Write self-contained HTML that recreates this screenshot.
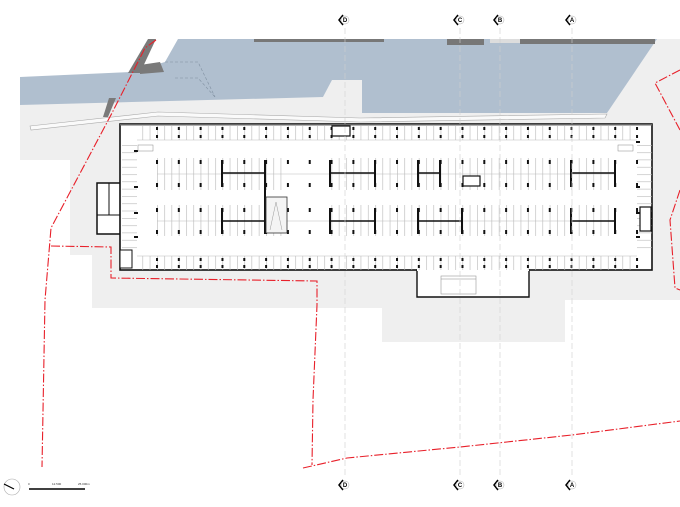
<!DOCTYPE html>
<html><head><meta charset="utf-8"><style>
html,body{margin:0;padding:0;background:#fff;}
svg{display:block;font-family:"Liberation Sans",sans-serif;}
</style></head><body>
<svg width="680" height="507" viewBox="0 0 680 507" xmlns="http://www.w3.org/2000/svg">
<defs>
<pattern id="stall" x="157" y="0" width="7.273" height="507" patternUnits="userSpaceOnUse">
<rect x="0" y="0" width="0.6" height="507" fill="#b8b8b8"/>
</pattern>
<pattern id="stallh" x="0" y="145" width="680" height="7.3" patternUnits="userSpaceOnUse">
<rect x="0" y="0" width="680" height="0.6" fill="#b8b8b8"/>
</pattern>
<pattern id="col" x="156" y="0" width="21.82" height="507" patternUnits="userSpaceOnUse">
<rect x="0" y="0" width="2" height="507" fill="#111"/>
</pattern>
</defs>

<!-- light site area -->
<polygon points="20,105 130,97 323,97 332,80 362,80 362,113 607,113 657,39 680,39 680,300 565,300 565,342 382,342 382,308 92,308 92,255 70,255 70,160 20,160" fill="#efefef"/>

<!-- water -->
<polygon points="20,77 130,72 165,62 178,39 657,39 607,113 362,113 362,80 332,80 323,97 20,105" fill="#b0bfcf"/>
<polyline points="165,62 198,62 215,97" fill="none" stroke="#7f8fa0" stroke-width="0.6" stroke-dasharray="3,2"/>
<polyline points="175,78 198,78 215,97" fill="none" stroke="#7f8fa0" stroke-width="0.6" stroke-dasharray="3,2"/>
<!-- quay bars -->
<rect x="254" y="39" width="130" height="3" fill="#777"/>
<rect x="447" y="39" width="37" height="6" fill="#777"/>
<rect x="520" y="39" width="135" height="5" fill="#777"/>
<rect x="490" y="39" width="30" height="4" fill="#ddd"/>
<polygon points="148,39 156,39 140,73 128,73" fill="#7a7a7a"/>
<polygon points="140,65 160,62 164,72 140,74" fill="#7a7a7a"/>
<polygon points="109,98 116,98 108,117 103,117" fill="#7a7a7a"/>
<!-- walkway strip -->
<polygon points="30,126 158,112 360,118 607,114 605,118 360,122 158,116 31,130" fill="#fafafa" stroke="#aaa" stroke-width="0.6"/>

<!-- building -->
<rect x="97" y="183" width="25" height="51" fill="#fff" stroke="#111" stroke-width="1.5"/>
<line x1="97" y1="215" x2="122" y2="215" stroke="#111" stroke-width="1"/>
<line x1="109" y1="183" x2="109" y2="215" stroke="#111" stroke-width="1"/>
<rect x="120" y="124" width="532" height="146" fill="#fff" stroke="#111" stroke-width="1.6"/>
<rect x="120" y="124" width="532" height="1.5" fill="#666"/>
<polygon points="417,270 417,297 529,297 529,270" fill="#fff" stroke="#111" stroke-width="1.4"/>
<line x1="417" y1="270" x2="529" y2="270" stroke="#fff" stroke-width="2"/>
<rect x="441" y="276" width="35" height="18" fill="none" stroke="#999" stroke-width="0.6"/>
<line x1="441" y1="279" x2="476" y2="279" stroke="#888" stroke-width="0.6"/>

<!-- stalls -->
<rect x="137" y="126" width="500" height="14" fill="url(#stall)"/>
<rect x="137" y="256" width="500" height="14" fill="url(#stall)"/>
<rect x="157" y="158" width="130" height="32" fill="url(#stall)"/>
<rect x="330" y="158" width="285" height="32" fill="url(#stall)"/>
<rect x="157" y="205" width="130" height="31" fill="url(#stall)"/>
<rect x="330" y="205" width="285" height="31" fill="url(#stall)"/>
<line x1="137" y1="140" x2="637" y2="140" stroke="#bbb" stroke-width="0.5"/>
<line x1="137" y1="256" x2="637" y2="256" stroke="#bbb" stroke-width="0.5"/>
<line x1="157" y1="174" x2="615" y2="174" stroke="#bbb" stroke-width="0.5"/>
<line x1="157" y1="221" x2="615" y2="221" stroke="#bbb" stroke-width="0.5"/>
<rect x="122" y="145" width="15" height="108" fill="url(#stallh)"/>
<rect x="637" y="145" width="15" height="108" fill="url(#stallh)"/>

<!-- columns -->
<rect x="156" y="127" width="484" height="3" fill="url(#col)"/>
<rect x="156" y="135" width="484" height="3" fill="url(#col)"/>
<rect x="156" y="160" width="482" height="4" fill="url(#col)"/>
<rect x="156" y="183" width="482" height="4" fill="url(#col)"/>
<rect x="156" y="208" width="482" height="4" fill="url(#col)"/>
<rect x="156" y="230" width="482" height="4" fill="url(#col)"/>
<rect x="156" y="258" width="484" height="3" fill="url(#col)"/>
<rect x="156" y="265" width="484" height="3" fill="url(#col)"/>
<!-- side columns -->
<g fill="#111">
<rect x="134" y="150" width="4" height="2"/><rect x="134" y="186" width="4" height="2"/><rect x="134" y="212" width="4" height="2"/><rect x="134" y="236" width="4" height="2"/>
<rect x="636" y="141" width="4" height="2"/><rect x="636" y="186" width="4" height="2"/><rect x="636" y="212" width="4" height="2"/><rect x="636" y="236" width="4" height="2"/>
</g>
<!-- beams -->
<g stroke="#111" stroke-width="1.5">
<line x1="222" y1="173" x2="265" y2="173"/><line x1="330" y1="173" x2="375" y2="173"/>
<line x1="418" y1="173" x2="440" y2="173"/><line x1="571" y1="173" x2="615" y2="173"/>
<line x1="222" y1="221" x2="265" y2="221"/><line x1="330" y1="221" x2="375" y2="221"/>
<line x1="418" y1="221" x2="462" y2="221"/><line x1="571" y1="221" x2="615" y2="221"/>
</g>
<g stroke="#111" stroke-width="2">
<line x1="222" y1="160" x2="222" y2="187"/><line x1="265" y1="160" x2="265" y2="234"/><line x1="330" y1="160" x2="330" y2="187"/><line x1="375" y1="160" x2="375" y2="187"/>
<line x1="418" y1="160" x2="418" y2="187"/><line x1="440" y1="160" x2="440" y2="187"/><line x1="571" y1="160" x2="571" y2="187"/><line x1="615" y1="160" x2="615" y2="187"/>
<line x1="222" y1="208" x2="222" y2="234"/><line x1="330" y1="208" x2="330" y2="234"/><line x1="375" y1="208" x2="375" y2="234"/>
<line x1="418" y1="208" x2="418" y2="234"/><line x1="462" y1="208" x2="462" y2="234"/><line x1="571" y1="208" x2="571" y2="234"/><line x1="615" y1="208" x2="615" y2="234"/>
</g>
<!-- ramp / cores -->
<rect x="266" y="197" width="21" height="36" fill="#f4f4f4" stroke="#333" stroke-width="0.8"/>
<polyline points="270,230 276,202 282,230" fill="none" stroke="#999" stroke-width="0.5"/>
<rect x="463" y="176" width="17" height="10" fill="#fff" stroke="#111" stroke-width="1.2"/>
<rect x="332" y="126" width="18" height="10" fill="#fff" stroke="#111" stroke-width="1.2"/>
<rect x="138" y="145" width="15" height="6" fill="#fff" stroke="#888" stroke-width="0.5"/>
<rect x="618" y="145" width="15" height="6" fill="#fff" stroke="#888" stroke-width="0.5"/>
<rect x="640" y="207" width="11" height="24" fill="#fff" stroke="#111" stroke-width="1.2"/>
<rect x="120" y="250" width="12" height="18" fill="#fff" stroke="#111" stroke-width="1"/>

<!-- section lines -->
<g stroke="#cfcfcf" stroke-width="0.6" stroke-dasharray="6,3">
<line x1="345" y1="28" x2="345" y2="478"/><line x1="460" y1="28" x2="460" y2="478"/>
<line x1="500" y1="28" x2="500" y2="478"/><line x1="572" y1="28" x2="572" y2="478"/>
</g>

<!-- red boundary -->
<g fill="none" stroke="#e8202a" stroke-width="1.1" stroke-dasharray="9,2,1.5,2">
<polyline points="156,40 145,48 112,113 51,228 45,300 42,467"/>
<polyline points="51,246 111,247 111,278 317,281 317,305 313,400 312,465"/>
<polyline points="303,468 347,458 460,447 572,435 680,421"/>
<polyline points="680,70 655,83 680,130"/>
<polyline points="680,190 670,220 675,288 680,290"/>
</g>

<!-- section markers -->
<g font-size="6" font-weight="bold" text-anchor="middle">
<g transform="translate(345,20)"><polyline points="-2,-5 -6,0 -2,5" fill="none" stroke="#000" stroke-width="1.5"/><circle cx="0" cy="0" r="4" fill="#fff" stroke="#aaa" stroke-width="0.5"/><text x="0" y="2">D</text></g>
<g transform="translate(460,20)"><polyline points="-2,-5 -6,0 -2,5" fill="none" stroke="#000" stroke-width="1.5"/><circle cx="0" cy="0" r="4" fill="#fff" stroke="#aaa" stroke-width="0.5"/><text x="0" y="2">C</text></g>
<g transform="translate(500,20)"><polyline points="-2,-5 -6,0 -2,5" fill="none" stroke="#000" stroke-width="1.5"/><circle cx="0" cy="0" r="4" fill="#fff" stroke="#aaa" stroke-width="0.5"/><text x="0" y="2">B</text></g>
<g transform="translate(572,20)"><polyline points="-2,-5 -6,0 -2,5" fill="none" stroke="#000" stroke-width="1.5"/><circle cx="0" cy="0" r="4" fill="#fff" stroke="#aaa" stroke-width="0.5"/><text x="0" y="2">A</text></g>
<g transform="translate(345,485)"><polyline points="-2,-5 -6,0 -2,5" fill="none" stroke="#000" stroke-width="1.5"/><circle cx="0" cy="0" r="4" fill="#fff" stroke="#aaa" stroke-width="0.5"/><text x="0" y="2">D</text></g>
<g transform="translate(460,485)"><polyline points="-2,-5 -6,0 -2,5" fill="none" stroke="#000" stroke-width="1.5"/><circle cx="0" cy="0" r="4" fill="#fff" stroke="#aaa" stroke-width="0.5"/><text x="0" y="2">C</text></g>
<g transform="translate(500,485)"><polyline points="-2,-5 -6,0 -2,5" fill="none" stroke="#000" stroke-width="1.5"/><circle cx="0" cy="0" r="4" fill="#fff" stroke="#aaa" stroke-width="0.5"/><text x="0" y="2">B</text></g>
<g transform="translate(572,485)"><polyline points="-2,-5 -6,0 -2,5" fill="none" stroke="#000" stroke-width="1.5"/><circle cx="0" cy="0" r="4" fill="#fff" stroke="#aaa" stroke-width="0.5"/><text x="0" y="2">A</text></g>
</g>

<!-- north arrow & scale -->
<circle cx="12" cy="487" r="8" fill="none" stroke="#aaa" stroke-width="0.6"/>
<line x1="4" y1="484" x2="14" y2="489" stroke="#000" stroke-width="1.2"/>
<line x1="29" y1="489" x2="85" y2="489" stroke="#000" stroke-width="1.5"/>
<g font-size="3" fill="#333"><text x="28" y="485">0</text><text x="52" y="485">12.500</text><text x="78" y="485">25.000m</text></g>
</svg>
</body></html>
